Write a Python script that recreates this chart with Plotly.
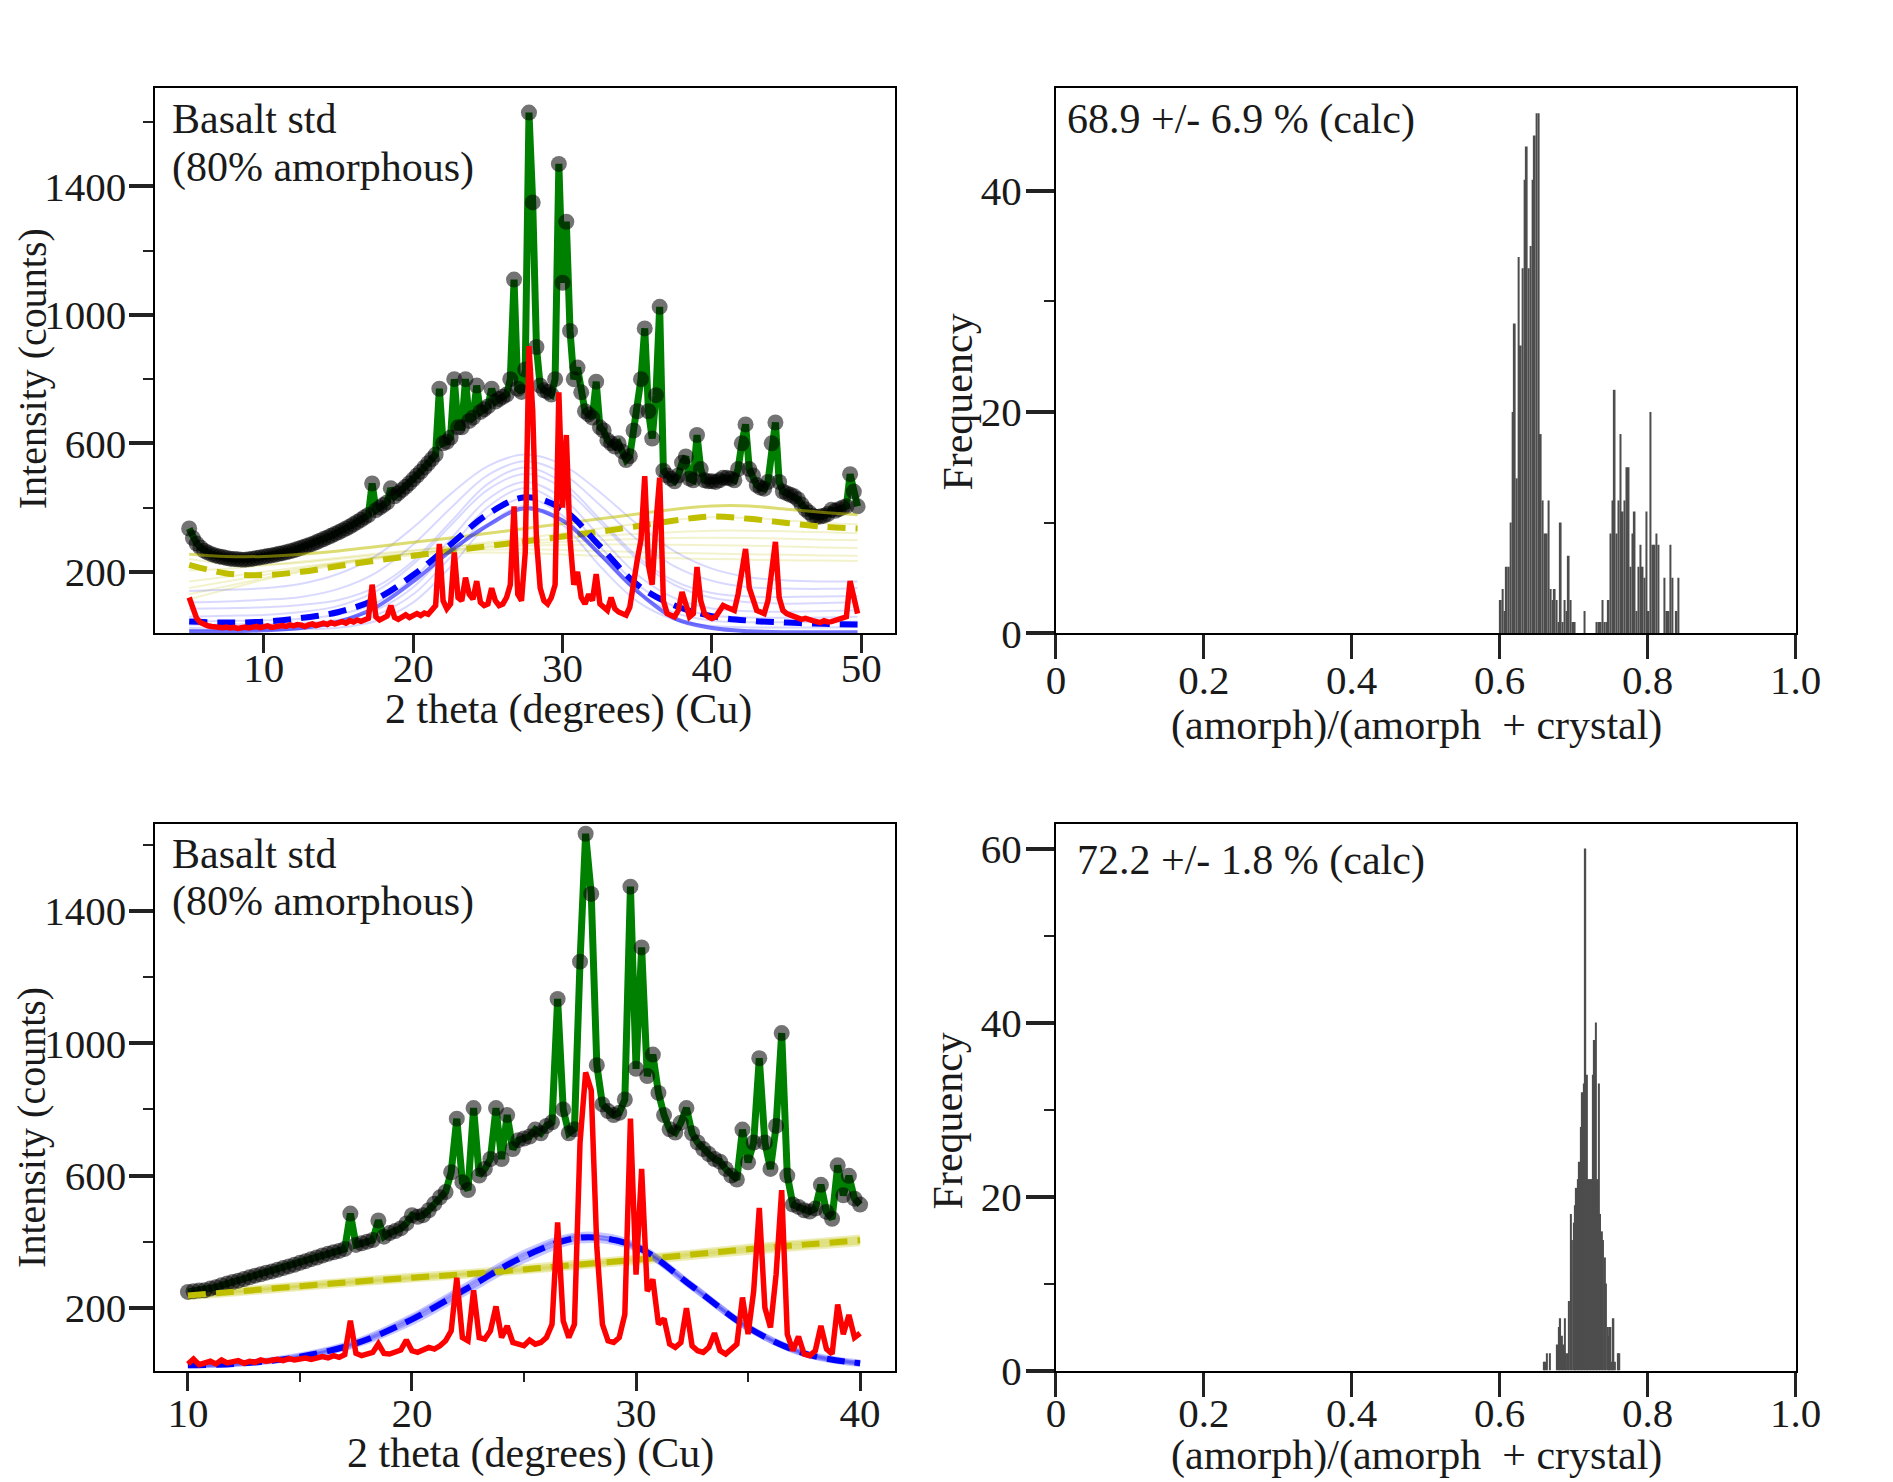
import numpy as np
import plotly.graph_objects as go

# --- top-left pattern: 2theta grid 5.00 .. 49.75, step 0.25 ---
tl_start, tl_step, tl_n = 5.0, 0.25, 180
obs_top = [
    335, 305, 288, 276, 266, 260, 255, 251, 248, 246, 243, 241, 240, 239, 238, 238,
    239, 241, 243, 245, 247, 249, 251, 253, 256, 258, 261, 264, 267, 271, 275, 279,
    283, 287, 292, 297, 302, 307, 312, 318, 323, 329, 335, 341, 348, 355, 362, 370,
    377, 475, 392, 400, 408, 416, 460, 435, 445, 455, 465, 476, 488, 500, 512, 525,
    538, 551, 565, 770, 600, 605, 618, 800, 650, 650, 800, 670, 680, 780, 698, 706,
    715, 770, 730, 738, 745, 752, 800, 1110, 770, 760, 830, 1630, 1350, 900, 780, 765,
    760, 752, 800, 1470, 1100, 1290, 950, 800, 836, 759, 700, 690, 680, 792, 650, 640,
    610, 600, 590, 600, 575, 548, 560, 640, 700, 800, 958, 700, 615, 750, 1025, 515,
    500, 490, 482, 500, 540, 559, 490, 485, 626, 520, 485, 482, 482, 480, 485, 493,
    493, 490, 485, 520, 600, 659, 520, 500, 470, 462, 459, 480, 600, 665, 480, 450,
    445, 440, 435, 426, 410, 395, 385, 375, 371, 372, 375, 380, 393, 390, 395, 400,
    404, 504, 450, 404,
]
cryst_top = [
    120, 80, 55, 42, 36, 32, 30, 28, 27, 26, 28, 25, 27, 24, 26, 28,
    25, 27, 30, 26, 28, 32, 27, 30, 29, 33, 30, 35, 32, 36, 34, 30,
    35, 38, 33, 36, 40, 36, 42, 38, 41, 45, 40, 48, 44, 50, 46, 52,
    55, 160, 60, 50, 55, 62, 95, 58, 52, 60, 66, 58, 62, 70, 64, 72,
    68, 80, 95, 287, 110, 85, 100, 260, 120, 110, 182, 130, 115, 171, 105, 95,
    100, 149, 110, 95, 100, 120, 160, 404, 130, 110, 260, 903, 700, 300, 150, 110,
    100, 120, 160, 759, 400, 626, 300, 160, 200, 120, 100, 130, 110, 193, 100, 90,
    80, 120, 85, 75, 70, 65, 90, 180, 237, 300, 498, 220, 160, 350, 493, 110,
    70, 65, 60, 80, 137, 100, 60, 70, 215, 110, 70, 60, 55, 60, 80, 95,
    90, 85, 80, 130, 200, 271, 150, 110, 80, 75, 70, 110, 210, 293, 120, 80,
    70, 65, 60, 55, 52, 55, 50, 48, 45, 42, 48, 44, 45, 48, 52, 55,
    60, 171, 110, 70,
]

# smooth components, top-left
tl_smooth_x = [5, 7.5, 10, 12.5, 15, 17.5, 20, 22.5, 25, 27.5, 30, 32.5, 35,
               37.5, 40, 42.5, 45, 47.5, 49.75]
amorph_top = [45, 42, 45, 56, 75, 115, 190, 285, 380, 432, 395, 280, 160, 95, 62, 48, 42, 38, 36]
amorph_top_med = [15, 15, 18, 25, 45, 90, 170, 265, 345, 398, 360, 255, 140, 55, 25, 15, 12, 12, 12]
backg_top = [222, 195, 190, 200, 218, 235, 250, 265, 280, 295, 310, 325, 342, 360, 372, 365, 352, 340, 335]
backg_top_upper = [255, 248, 248, 255, 265, 278, 292, 305, 320, 335, 350, 365, 380, 395, 405, 405, 395, 385, 378]
amorph_top_samples = [
    [140, 144, 149, 163, 194, 250, 338, 442, 529, 565, 533, 448, 348, 264, 210, 183, 173, 170, 170],
    [105, 108, 113, 122, 147, 197, 285, 398, 501, 544, 506, 408, 300, 217, 172, 152, 148, 147, 150],
    [85, 87, 90, 97, 112, 153, 234, 355, 474, 525, 478, 364, 248, 171, 134, 123, 122, 123, 125],
    [60, 63, 66, 75, 94, 139, 224, 344, 456, 505, 461, 354, 239, 159, 119, 105, 101, 103, 105],
    [45, 47, 49, 54, 67, 103, 180, 302, 426, 480, 429, 309, 191, 118, 86, 77, 76, 78, 80],
    [35, 36, 38, 41, 51, 81, 152, 274, 402, 460, 405, 279, 161, 92, 64, 58, 57, 58, 60],
    [25, 26, 27, 30, 37, 65, 130, 246, 373, 430, 375, 250, 136, 73, 48, 43, 43, 44, 45],
    [18, 19, 19, 21, 26, 47, 105, 216, 346, 405, 347, 218, 108, 51, 32, 27, 27, 27, 28],
]
backg_top_samples = [
    [240, 225, 222, 228, 240, 252, 265, 278, 292, 305, 320, 335, 350, 362, 370, 368, 360, 352, 348],
    [205, 210, 220, 232, 244, 256, 267, 277, 287, 296, 304, 312, 318, 324, 328, 328, 326, 323, 320],
    [170, 185, 200, 215, 230, 245, 258, 270, 280, 288, 294, 298, 302, 305, 306, 305, 303, 300, 298],
    [150, 170, 190, 210, 228, 245, 258, 268, 276, 281, 284, 285, 285, 284, 283, 281, 279, 276, 274],
    [130, 155, 180, 205, 226, 244, 257, 265, 269, 270, 268, 265, 262, 259, 257, 255, 253, 251, 250],
    [115, 145, 175, 200, 222, 240, 252, 258, 260, 258, 254, 249, 245, 242, 240, 238, 236, 235, 234],
]

# --- bottom-left pattern: 2theta grid 10.00 .. 40.00, step 0.25 ---
bl_start, bl_step, bl_n = 10.0, 0.25, 121
obs_bot = [
    248, 250, 252, 253, 258, 262, 268, 273, 278, 282, 287, 292, 297, 301, 306, 310,
    315, 320, 325, 330, 336, 341, 347, 352, 358, 363, 368, 372, 378, 485, 390, 395,
    400, 405, 464, 415, 426, 432, 440, 455, 480, 475, 480, 495, 515, 534, 550, 610,
    772, 580, 556, 804, 600, 620, 650, 804, 650, 783, 680, 707, 712, 718, 739, 728,
    750, 761, 1134, 800, 728, 740, 1247, 1634, 1452, 934, 815, 795, 783, 790, 830, 1474,
    923, 1290, 901, 966, 850, 783, 740, 730, 760, 804, 728, 700, 680, 665, 650, 642,
    620, 600, 588, 739, 640, 700, 955, 700, 620, 750, 1031, 600, 512, 505, 495, 491,
    500, 572, 490, 469, 631, 540, 599, 530, 512,
]
cryst_bot = [
    30, 45, 28, 35, 38, 30, 42, 33, 36, 40, 32, 38, 35, 42, 38, 40,
    44, 40, 46, 42, 45, 48, 44, 50, 52, 48, 55, 50, 58, 161, 62, 55,
    60, 65, 91, 62, 60, 68, 72, 102, 70, 65, 72, 80, 75, 85, 100, 130,
    291, 110, 100, 253, 110, 105, 130, 204, 110, 145, 95, 90, 85, 102, 90, 95,
    110, 150, 458, 160, 110, 150, 700, 912, 858, 383, 150, 100, 95, 110, 180, 772,
    300, 620, 250, 286, 150, 167, 90, 80, 95, 199, 85, 70, 65, 80, 123, 70,
    60, 75, 90, 231, 120, 250, 502, 200, 140, 300, 556, 120, 70, 113, 60, 55,
    70, 145, 75, 60, 210, 120, 178, 110, 123,
]
bl_smooth_x = [10, 12.5, 15, 17.5, 20, 22.5, 25, 27.5, 30, 32.5, 35, 37.5, 40]
amorph_bot = [26, 32, 52, 92, 165, 260, 355, 412, 385, 265, 140, 62, 32]
backg_bot = [237, 251, 265, 279, 291, 302, 316, 331, 345, 361, 377, 391, 404]
amorph_bot_samples = [
    [24, 30, 48, 86, 155, 248, 342, 402, 378, 260, 136, 58, 28],
    [28, 35, 57, 99, 175, 272, 368, 422, 392, 270, 144, 66, 36],
    [25, 31, 50, 90, 162, 256, 352, 410, 387, 268, 143, 63, 31],
    [27, 33, 54, 95, 170, 265, 360, 416, 382, 262, 137, 60, 33],
]
backg_bot_samples = [
    [230, 244, 258, 272, 284, 296, 309, 323, 337, 352, 367, 381, 394],
    [244, 258, 272, 286, 298, 310, 324, 339, 353, 369, 386, 400, 414],
    [234, 248, 262, 276, 288, 300, 313, 327, 342, 357, 373, 386, 399],
    [240, 254, 268, 282, 294, 305, 319, 334, 349, 365, 381, 396, 409],
]

# --- histograms of amorphous fraction ---
hist_top_start, hist_top_width = 0.6000, 0.0027
hist_top_counts = [
    3, 4, 2, 6, 6, 10, 20, 28, 14, 34, 26, 33, 41, 44, 33, 35, 41, 45, 47, 47,
    18, 12, 9, 9, 12, 4, 3, 4, 3, 1, 10, 1, 3, 2, 7, 3, 1, 1, 0, 0,
    0, 0, 2, 0, 0, 0, 0, 0, 1, 1, 1, 3, 1, 1, 3, 9, 12, 22, 9, 12,
    18, 11, 12, 15, 15, 6, 9, 11, 2, 6, 8, 6, 5, 11, 2, 20, 8, 8, 9, 8,
    0, 0, 5, 2, 2, 8, 5, 0, 2, 5,
]
hist_bot_start, hist_bot_width = 0.659, 0.002
hist_bot_counts = [
    1, 1, 2, 0, 2, 0, 0, 0, 0, 3, 5, 6, 4, 3, 6, 2, 2, 8, 18, 15,
    17, 19, 21, 22, 24, 28, 32, 33, 60, 34, 22, 22, 22, 34, 38, 40, 22, 33, 18, 16,
    15, 13, 10, 5, 4, 5, 1, 6, 1, 0, 2, 2,
]

frac_ticks = [0, 0.2, 0.4, 0.6, 0.8, 1.0]
frac_labels = ["0", "0.2", "0.4", "0.6", "0.8", "1.0"]

SERIF = "Liberation Serif"
TXT = "#1a1a1a"
YEL = "rgba(191,191,0,1)"

fig = go.Figure()


def add_pattern(xa, ya, x, obs, cryst, sx, amorph, backg, am_samples, bg_samples,
                amorph_med=None, backg_upper=None, sample_alpha=0.15, sample_w=2):
    for s in bg_samples:
        fig.add_trace(go.Scatter(x=sx, y=s, mode="lines", line_shape="spline",
                                 line=dict(color=f"rgba(191,191,0,{sample_alpha + 0.05})", width=sample_w),
                                 xaxis=xa, yaxis=ya, hoverinfo="skip"))
    for s in am_samples:
        fig.add_trace(go.Scatter(x=sx, y=s, mode="lines", line_shape="spline",
                                 line=dict(color=f"rgba(0,0,255,{sample_alpha})", width=sample_w),
                                 xaxis=xa, yaxis=ya, hoverinfo="skip"))
    # model fit (green) under the observed points
    fig.add_trace(go.Scatter(x=x, y=obs, mode="lines", line=dict(color="#008000", width=7),
                             xaxis=xa, yaxis=ya))
    fig.add_trace(go.Scatter(x=x, y=obs, mode="markers",
                             marker=dict(color="rgba(0,0,0,0.55)", size=16, line=dict(width=0)),
                             xaxis=xa, yaxis=ya))
    if backg_upper is not None:
        fig.add_trace(go.Scatter(x=sx, y=backg_upper, mode="lines", line_shape="spline",
                                 line=dict(color="rgba(191,191,0,0.55)", width=3),
                                 xaxis=xa, yaxis=ya))
    fig.add_trace(go.Scatter(x=sx, y=backg, mode="lines", line_shape="spline",
                             line=dict(color=YEL, width=6, dash="18px,10px"),
                             xaxis=xa, yaxis=ya))
    if amorph_med is not None:
        fig.add_trace(go.Scatter(x=sx, y=amorph_med, mode="lines", line_shape="spline",
                                 line=dict(color="rgba(0,0,255,0.55)", width=4),
                                 xaxis=xa, yaxis=ya))
    fig.add_trace(go.Scatter(x=sx, y=amorph, mode="lines", line_shape="spline",
                             line=dict(color="#0000ff", width=6, dash="18px,10px"),
                             xaxis=xa, yaxis=ya))
    fig.add_trace(go.Scatter(x=x, y=cryst, mode="lines", line=dict(color="#ff0000", width=5.5),
                             xaxis=xa, yaxis=ya))


tl_x = np.round(tl_start + tl_step * np.arange(tl_n), 3)
bl_x = np.round(bl_start + bl_step * np.arange(bl_n), 3)

add_pattern("x", "y", tl_x, obs_top, cryst_top, tl_smooth_x, amorph_top, backg_top,
            amorph_top_samples, backg_top_samples, amorph_top_med, backg_top_upper)
add_pattern("x3", "y3", bl_x, obs_bot, cryst_bot, bl_smooth_x, amorph_bot, backg_bot,
            amorph_bot_samples, backg_bot_samples, sample_alpha=0.22, sample_w=5)

top_centers = hist_top_start + hist_top_width * (np.arange(len(hist_top_counts)) + 0.5)
bot_centers = hist_bot_start + hist_bot_width * (np.arange(len(hist_bot_counts)) + 0.5)
fig.add_trace(go.Bar(x=top_centers, y=hist_top_counts, width=hist_top_width,
                     marker=dict(color="#4d4d4d", line=dict(width=0)), xaxis="x2", yaxis="y2"))
fig.add_trace(go.Bar(x=bot_centers, y=hist_bot_counts, width=hist_bot_width,
                     marker=dict(color="#4d4d4d", line=dict(width=0)), xaxis="x4", yaxis="y4"))

base = dict(showline=True, linecolor="black", linewidth=2, mirror=True, ticks="outside",
            tickcolor="#222", showgrid=False, zeroline=False,
            tickfont=dict(family=SERIF, size=41, color=TXT))
LEFT = [0.0740, 0.4723]
RIGHT = [0.5589, 0.9572]
TOP = [0.5715, 0.9453]
BOT = [0.0661, 0.4406]


def minor(step, length=10):
    return dict(ticks="outside", tick0=0, dtick=step, ticklen=length, tickwidth=1.5, tickcolor="#222")


fig.update_layout(
    width=1893, height=1482, margin=dict(l=0, r=0, t=0, b=0),
    paper_bgcolor="white", plot_bgcolor="white", showlegend=False,
    xaxis=dict(base, domain=LEFT, range=[2.74, 52.26], anchor="y", tick0=0, dtick=10,
               ticklen=18, tickwidth=3, ticklabelstandoff=-20),
    yaxis=dict(base, domain=TOP, range=[9, 1707], anchor="x", tick0=200, dtick=400,
               ticklen=24, tickwidth=4, ticklabelstandoff=-5, minor=minor(200)),
    xaxis2=dict(base, domain=RIGHT, range=[0, 1], anchor="y2", tickvals=frac_ticks,
                ticktext=frac_labels, ticklen=24, tickwidth=3, ticklabelstandoff=-14),
    yaxis2=dict(base, domain=TOP, range=[0, 49.3], anchor="x2", tick0=0, dtick=20,
                ticklen=28, tickwidth=3.5, ticklabelstandoff=-4, minor=minor(10)),
    xaxis3=dict(base, domain=LEFT, range=[8.55, 41.56], anchor="y3", tick0=0, dtick=10,
                ticklen=18, tickwidth=3, ticklabelstandoff=-13, minor=minor(5, 9)),
    yaxis3=dict(base, domain=BOT, range=[10, 1663], anchor="x3", tick0=200, dtick=400,
                ticklen=24, tickwidth=4, ticklabelstandoff=-5, minor=minor(200)),
    xaxis4=dict(base, domain=RIGHT, range=[0, 1], anchor="y4", tickvals=frac_ticks,
                ticktext=frac_labels, ticklen=24, tickwidth=3, ticklabelstandoff=-19),
    yaxis4=dict(base, domain=BOT, range=[0, 62.8], anchor="x4", tick0=0, dtick=20,
                ticklen=28, tickwidth=3.5, ticklabelstandoff=-4, minor=minor(10)),
)

notes = [
    # (text, x, y, angle, xanchor, size)
    ("Intensity (counts)", 0.0080, 0.7530, -90, "center", 40),
    ("Intensity (counts)", 0.0076, 0.2325, -90, "center", 40),
    ("Frequency", 0.5061, 0.7301, -90, "center", 42),
    ("Frequency", 0.5013, 0.2375, -90, "center", 42),
    ("2 theta (degrees) (Cu)", 0.2964, 0.5190, 0, "center", 42),
    ("2 theta (degrees) (Cu)", 0.2760, 0.0090, 0, "center", 42),
    ("(amorph)/(amorph\u00a0 + crystal)", 0.7533, 0.5080, 0, "center", 42),
    ("(amorph)/(amorph\u00a0 + crystal)", 0.7533, 0.0080, 0, "center", 42),
    ("Basalt std", 0.0819, 0.9238, 0, "left", 42),
    ("(80% amorphous)", 0.0819, 0.8907, 0, "left", 42),
    ("Basalt std", 0.0819, 0.4204, 0, "left", 42),
    ("(80% amorphous)", 0.0819, 0.3873, 0, "left", 42),
    ("68.9 +/- 6.9 % (calc)", 0.5637, 0.9238, 0, "left", 42),
    ("72.2 +/- 1.8 % (calc)", 0.5690, 0.4157, 0, "left", 42),
]
for text, x, y, ang, xa, size in notes:
    fig.add_annotation(text=text, x=x, y=y, xref="paper", yref="paper", showarrow=False,
                       textangle=ang, xanchor=xa, yanchor="middle",
                       font=dict(family=SERIF, size=size, color=TXT))

fig.write_html("out.html")
